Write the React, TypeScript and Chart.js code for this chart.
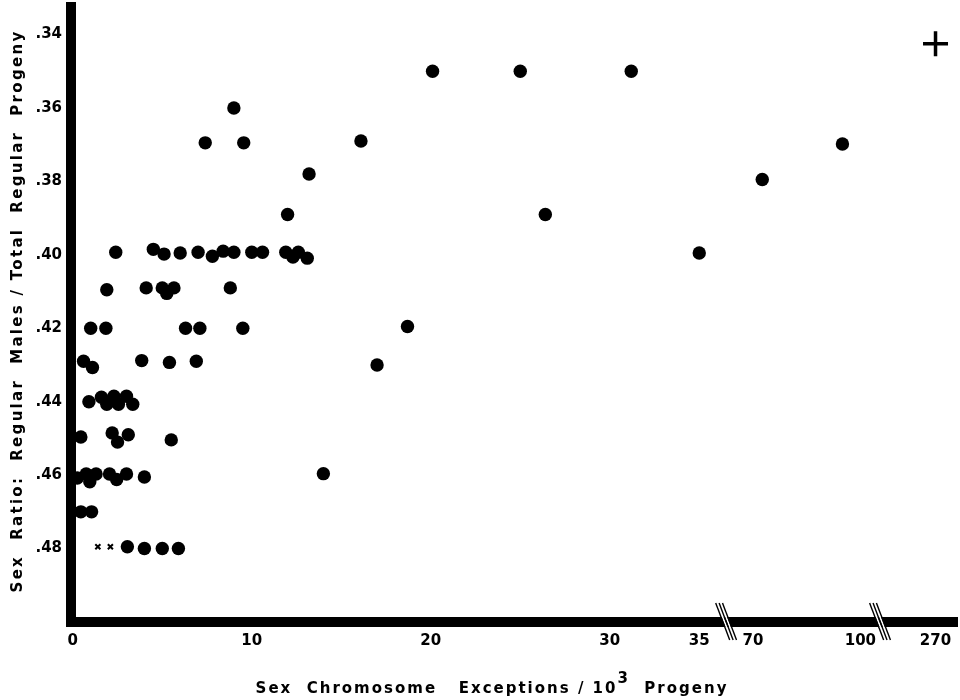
import React, { useEffect, useRef } from "react";
import { Chart, registerables } from "chart.js";

Chart.register(...registerables);

// ---- data (x = exceptions per 10^3 progeny, y = sex ratio) ----
const dotX = [
  20.1, 25.0, 31.2,
  9.0,
  7.4, 9.55, 16.1, 95,
  13.2, 72.6,
  12.0, 26.4,
  2.4, 4.5, 5.1, 6.0, 7.0, 7.8, 8.4, 9.0, 10.0, 10.6, 11.9, 12.3, 12.6, 13.1, 35,
  1.9, 4.1, 5.0, 5.25, 5.65, 8.8,
  1.0, 1.85, 6.3, 7.1, 9.5, 18.7,
  0.6, 1.1, 3.85, 5.4, 6.9, 17.0,
  0.9, 1.6, 1.9, 2.3, 2.55, 3.0, 3.35,
  0.45, 2.2, 2.5, 3.1, 5.5,
  0.25, 0.75, 0.95, 1.3, 2.05, 2.45, 3.0, 4.0, 14.0,
  0.45, 1.05,
  3.05, 4.0, 5.0, 5.9,
];
const dotY = [
  0.35, 0.35, 0.35,
  0.36,
  0.3695, 0.3695, 0.369, 0.3698,
  0.378, 0.3795,
  0.389, 0.389,
  0.3993, 0.3985, 0.3998, 0.3995, 0.3993, 0.4004, 0.399, 0.3993, 0.3993, 0.3993, 0.3993, 0.4006, 0.3993, 0.4009, 0.3995,
  0.4095, 0.409, 0.409, 0.4105, 0.409, 0.409,
  0.42, 0.42, 0.42, 0.42, 0.42, 0.4195,
  0.429, 0.4307, 0.4288, 0.4293, 0.429, 0.43,
  0.44, 0.4388, 0.4407, 0.4385, 0.4407, 0.4385, 0.4407,
  0.4496, 0.4485, 0.451, 0.449, 0.4504,
  0.4608, 0.4597, 0.4618, 0.4597, 0.4597, 0.4612, 0.4597, 0.4605, 0.4596,
  0.47, 0.47,
  0.4795, 0.48, 0.48, 0.48,
];
const crossX = [1.4, 2.1];
const crossY = [0.4795, 0.4795];
const plusX = [270];
const plusY = [0.3425];

const xTickValues = [0, 10, 20, 30, 35, 70, 100, 270];
const yTickValues = [0.34, 0.36, 0.38, 0.4, 0.42, 0.44, 0.46, 0.48];

const yTitle = "Sex  Ratio:  Regular  Males / Total  Regular  Progeny";
const xTitleMain = "Sex  Chromosome   Exceptions / 10";
const xTitleSup = "3";
const xTitleEnd = "  Progeny";

// broken x axis: value ranges mapped onto axis units
const xSegments = [
  { v0: 0, v1: 35, p0: 0, p1: 35 },
  { v0: 70, v1: 100, p0: 38, p1: 44 },
  { v0: 250, v1: 290, p0: 46.2, p1: 50.2 },
];

function mapX(v: number): number {
  for (const s of xSegments) {
    if (v >= s.v0 && v <= s.v1) return s.p0 + ((v - s.v0) / (s.v1 - s.v0)) * (s.p1 - s.p0);
  }
  return v;
}

const breakPositions = xSegments.slice(1).map((s, i) => (xSegments[i].p1 + s.p0) / 2);

const FONT = '"DejaVu Sans", "Liberation Sans", sans-serif';

const decorPlugin = {
  id: "decor",
  afterDraw(chart: any) {
    const ctx = chart.ctx as CanvasRenderingContext2D;
    const area = chart.chartArea;
    const xs = chart.scales.x;
    // axis breaks
    for (const bp of breakPositions) {
      const px = xs.getPixelForValue(bp);
      const yb = area.bottom;
      for (let i = 0; i < 3; i++) {
        const off = (i - 1) * 3.4;
        if (i < 2) {
          ctx.save();
          ctx.strokeStyle = "#fff";
          ctx.lineWidth = 1.8;
          ctx.beginPath();
          ctx.moveTo(px - 7 + off + 1.7, yb - 19);
          ctx.lineTo(px + 7 + off + 1.7, yb + 18);
          ctx.stroke();
          ctx.restore();
        }
        ctx.save();
        ctx.strokeStyle = "#000";
        ctx.lineWidth = 1.4;
        ctx.beginPath();
        ctx.moveTo(px - 7 + off, yb - 19);
        ctx.lineTo(px + 7 + off, yb + 18);
        ctx.stroke();
        ctx.restore();
      }
    }
    // titles
    ctx.save();
    ctx.fillStyle = "#000";
    ctx.font = `bold 15px ${FONT}`;
    (ctx as any).letterSpacing = "2.3px";
    ctx.textBaseline = "middle";
    ctx.textAlign = "center";
    ctx.translate(18, 311);
    ctx.rotate(-Math.PI / 2);
    ctx.fillText(yTitle, 0, 0);
    ctx.restore();

    ctx.save();
    ctx.fillStyle = "#000";
    ctx.font = `bold 15px ${FONT}`;
    (ctx as any).letterSpacing = "2px";
    ctx.textBaseline = "alphabetic";
    ctx.textAlign = "left";
    const w1 = ctx.measureText(xTitleMain).width;
    const w2 = ctx.measureText(xTitleSup).width;
    const w3 = ctx.measureText(xTitleEnd).width;
    const total = w1 + w2 + w3;
    let x0 = 492 - total / 2;
    const base = 693;
    ctx.fillText(xTitleMain, x0, base);
    x0 += w1;
    ctx.fillText(xTitleSup, x0, base - 10);
    x0 += w2;
    ctx.fillText(xTitleEnd, x0, base);
    ctx.restore();
  },
};

export default function App() {
  const ref = useRef<HTMLCanvasElement | null>(null);
  useEffect(() => {
    document.body.style.margin = "0";
    const canvas = ref.current;
    if (!canvas) return;
    const tickFont = { family: FONT, weight: "bold" as const, size: 15 };
    const chart = new Chart(canvas, {
      type: "scatter",
      data: {
        datasets: [
          {
            data: dotX.map((x, i) => ({ x: mapX(x), y: dotY[i] })),
            pointStyle: "circle",
            pointRadius: 6.7,
            backgroundColor: "#000",
            borderColor: "#000",
            borderWidth: 0,
            clip: false as any,
          },
          {
            data: crossX.map((x, i) => ({ x: mapX(x), y: crossY[i] })),
            pointStyle: "crossRot",
            pointRadius: 3.6,
            borderColor: "#000",
            borderWidth: 2,
            clip: false as any,
          },
          {
            data: plusX.map((x, i) => ({ x: mapX(x), y: plusY[i] })),
            pointStyle: "cross",
            pointRadius: 12.5,
            borderColor: "#000",
            borderWidth: 3.5,
            clip: false as any,
          },
        ],
      },
      options: {
        responsive: false,
        animation: false,
        layout: { autoPadding: false, padding: { top: 7, right: 3, left: 0, bottom: 0 } },
        plugins: { legend: { display: false }, tooltip: { enabled: false } },
        scales: {
          x: {
            type: "linear",
            min: -0.1,
            max: 49.4,
            grid: { display: false, drawTicks: false },
            border: { display: true, color: "#000", width: 10 },
            afterBuildTicks: (scale: any) => {
              scale.ticks = xTickValues.map((v) => ({ value: mapX(v) }));
            },
            afterFit: (scale: any) => {
              scale.height = 78;
              scale.paddingLeft = 0;
              scale.paddingRight = 0;
            },
            ticks: {
              color: "#000",
              font: tickFont,
              padding: 10,
              maxRotation: 0,
              autoSkip: false,
              callback: (_v: any, i: number) => String(xTickValues[i]),
            },
          },
          y: {
            type: "linear",
            reverse: true,
            min: 0.3325,
            max: 0.5,
            grid: { display: false, drawTicks: false },
            border: { display: true, color: "#000", width: 10 },
            afterBuildTicks: (scale: any) => {
              scale.ticks = yTickValues.map((v) => ({ value: v }));
            },
            afterFit: (scale: any) => {
              scale.width = 71;
              scale.paddingTop = 0;
              scale.paddingBottom = 0;
            },
            ticks: {
              color: "#000",
              font: tickFont,
              padding: 9,
              autoSkip: false,
              callback: (v: any) => Number(v).toFixed(2).replace(/^0/, ""),
            },
          },
        },
      },
      plugins: [decorPlugin],
    });
    return () => chart.destroy();
  }, []);
  return (
    <div style={{ width: 960, height: 700, background: "#fff" }}>
      <canvas ref={ref} width={960} height={700} />
    </div>
  );
}
